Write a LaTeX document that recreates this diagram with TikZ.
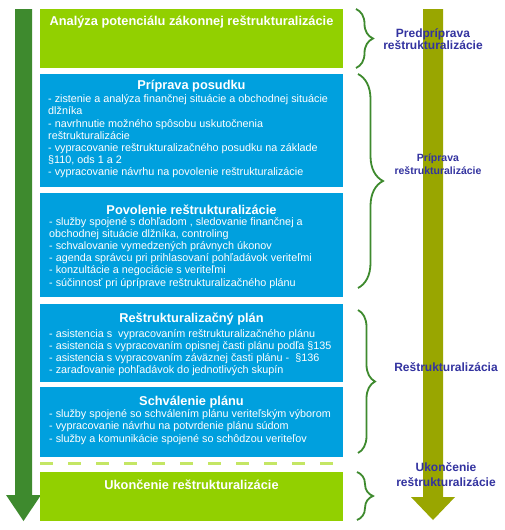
\documentclass[tikz,border=0pt]{standalone}
\usepackage{fontspec}
\setmainfont{Liberation Sans}
\usetikzlibrary{decorations.pathreplacing}
\definecolor{limegreen}{RGB}{146,208,0}
\definecolor{stageblue}{RGB}{0,160,222}
\definecolor{darkgreen}{RGB}{62,138,46}
\definecolor{olivebar}{RGB}{153,166,0}
\definecolor{labelblue}{RGB}{51,51,160}
\definecolor{dashgreen}{RGB}{196,230,100}

\begin{document}
\begin{tikzpicture}[x=1pt,y=-1pt,
  stage/.style={anchor=north west,minimum width=303pt,inner sep=0pt},
  greenstage/.style={stage,fill=limegreen},
  bluestage/.style={stage,fill=stageblue},
  stagetitle/.style={white,inner sep=0pt,font=\bfseries\fontsize{12.8}{14}\selectfont},
  stageitems/.style={white,anchor=north west,inner sep=0pt,align=left,font=\fontsize{10.8}{12.2}\selectfont},
  phasebrace/.style={darkgreen,line width=1.8pt,decorate,decoration={brace,amplitude=#1}},
  phase/.style={labelblue,align=center,inner sep=0pt,font=\bfseries\fontsize{12}{12.5}\selectfont}]
   \useasboundingbox[fill=white] (0,0) rectangle (504,530);

   \fill[darkgreen] (15,9) -- (32,9) -- (32,495) -- (41,495) -- (23.5,521) -- (6,495) -- (15,495) -- cycle;

   \node[greenstage,minimum height=59pt] (analyza) at (40,9) {};
   \node[bluestage,minimum height=113pt] (posudok) at (40,74) {};
   \node[bluestage,minimum height=104pt] (povolenie) at (40,193) {};
   \node[bluestage,minimum height=78pt] (plan) at (40,304) {};
   \node[bluestage,minimum height=70pt] (schvalenie) at (40,387) {};
   \node[greenstage,minimum height=49pt] (ukoncenie) at (40,472) {};

   \node[stagetitle] (analyza-t) at (191.5,22.5) {Analýza potenciálu zákonnej reštrukturalizácie};
   \node[stagetitle] (posudok-t) at (191.5,86) {Príprava posudku};
   \node[stageitems] (posudok-i) at (48,94.5) {- zistenie a analýza finančnej situácie a obchodnej situácie\\
     dlžníka\\
     - navrhnutie možného spôsobu uskutočnenia\\
     reštrukturalizácie\\
     - vypracovanie reštrukturalizačného posudku na základe\\
     §110, ods 1 a 2\\
     - vypracovanie návrhu na povolenie reštrukturalizácie};
   \node[stagetitle] (povolenie-t) at (191.5,209.3) {Povolenie reštrukturalizácie};
   \node[stageitems] (povolenie-i) at (49,217) {- služby spojené s dohľadom , sledovanie finančnej a\\
     obchodnej situácie dlžníka, controling\\
     - schvalovanie vymedzených právnych úkonov\\
     - agenda správcu pri prihlasovaní pohľadávok veriteľmi\\
     - konzultácie a negociácie s veriteľmi\\
     - súčinnosť pri úpríprave reštrukturalizačného plánu};
   \node[stagetitle] (plan-t) at (191.5,319.3) {Reštrukturalizačný plán};
   \node[stageitems] (plan-i) at (49,329) {- asistencia s \ vypracovaním reštrukturalizačného plánu\\
     - asistencia s vypracovaním opisnej časti plánu podľa §135\\
     - asistencia s vypracovaním záväznej časti plánu - \ §136\\
     - zaraďovanie pohľadávok do jednotlivých skupín};
   \node[stagetitle] (schvalenie-t) at (191.5,401.7) {Schválenie plánu};
   \node[stageitems] (schvalenie-i) at (49,409.5) {- služby spojené so schválením plánu veriteľským výborom\\
     - vypracovanie návrhu na potvrdenie plánu súdom\\
     - služby a komunikácie spojené so schôdzou veriteľov};
   \node[stagetitle] (ukoncenie-t) at (191.5,485) {Ukončenie reštrukturalizácie};

   \draw[dashgreen,line width=3.5pt,dash pattern=on 13pt off 15pt] (40,463.5) -- (343,463.5);

   \fill[olivebar] (423,9) -- (443,9) -- (443,497) -- (455,497) -- (433,520) -- (411,497) -- (423,497) -- cycle;

   \coordinate (b1-top) at (356,9);
   \coordinate (b1-bot) at (356,68);
   \coordinate (b2-top) at (358,74);
   \coordinate (b2-bot) at (358,288);
   \coordinate (b3-top) at (358,310);
   \coordinate (b3-bot) at (358,453);
   \coordinate (b4-top) at (357,472);
   \coordinate (b4-bot) at (357,520);
   \draw[phasebrace=17pt] (b1-top) -- (b1-bot);
   \draw[phasebrace=25pt] (b2-top) -- (b2-bot);
   \draw[phasebrace=17pt] (b3-top) -- (b3-bot);
   \draw[phasebrace=16pt] (b4-top) -- (b4-bot);

   \node[phase] (predpriprava) at (433,39) {Predpríprava\\reštrukturalizácie};
   \node[phase,font=\bfseries\fontsize{10.5}{13.5}\selectfont] (priprava) at (438,164) {Príprava\\reštrukturalizácie};
   \node[phase] (restrukturalizacia) at (446,367) {Reštrukturalizácia};
   \node[phase,font=\bfseries\fontsize{12}{15}\selectfont] (ukoncenie-l) at (446,475) {Ukončenie\\reštrukturalizácie};
\end{tikzpicture}
\end{document}
